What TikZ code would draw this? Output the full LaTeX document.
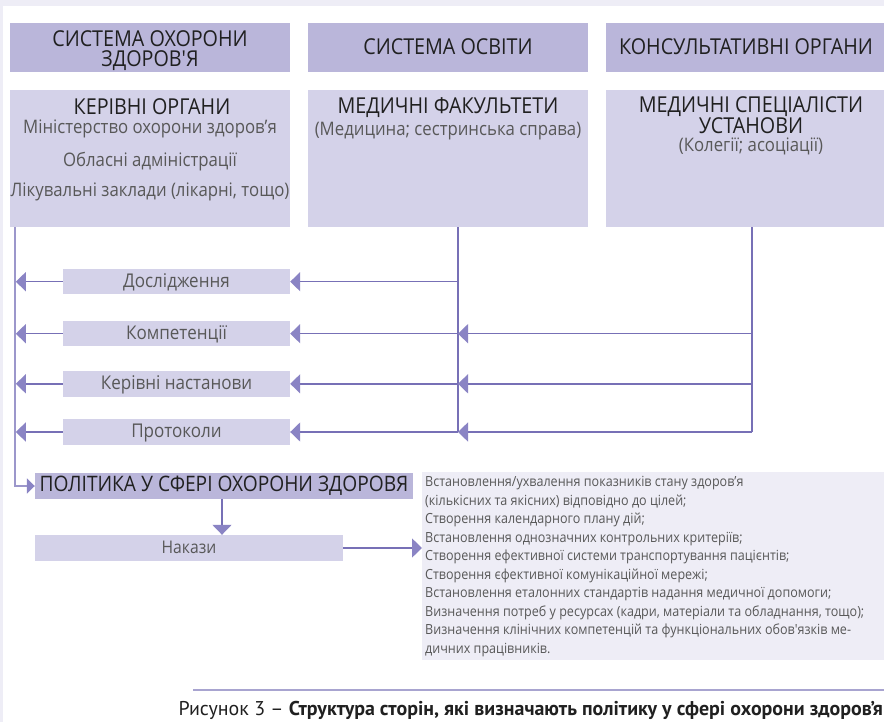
\documentclass[tikz,border=0pt]{standalone}
\usepackage{fontspec}
\setmainfont{Open Sans}[Ligatures=TeXOff,FakeStretch=0.9]
\newfontfamily\capfont{PT Sans}[Ligatures=TeXOff]
\usetikzlibrary{arrows.meta}
\definecolor{hdr}{HTML}{BAB6DA}
\definecolor{sub}{HTML}{D4D2E9}
\definecolor{pale}{HTML}{EEEDF6}
\definecolor{ln}{HTML}{7770B6}
\definecolor{lnl}{HTML}{9C97CB}
\definecolor{tip}{HTML}{8A84C4}
\definecolor{dk}{HTML}{202020}
\definecolor{gr}{HTML}{585858}
\definecolor{capl}{HTML}{A8A4D0}
\begin{document}
\begin{tikzpicture}[x=1bp,y=-1bp,
  hdrbox/.style={fill=hdr, draw=none, minimum width=280bp, minimum height=49bp, inner sep=0},
  subbox/.style={fill=sub, draw=none, minimum width=280bp, minimum height=137bp, inner sep=0},
  labbox/.style={fill=sub, draw=none, minimum width=227bp, minimum height=25.5bp, inner sep=0},
  bigtxt/.style={anchor=base, inner sep=0, text=dk, font=\fontsize{22}{26}\selectfont},
  midtxt/.style={anchor=base, inner sep=0, text=gr, font=\fontsize{18.7}{22}\selectfont},
  labtxt/.style={anchor=base, inner sep=0, text=gr, font=\fontsize{19}{22}\selectfont},
  tline/.style={anchor=base west, inner sep=0, text=gr, font=\fontsize{14}{17}\selectfont},
  line/.style={draw=ln, line width=1.5bp},
  arr/.style={line, -{Triangle[length=10bp,width=19bp,color=tip]}}
]
\useasboundingbox (0,0) rectangle (884,722);
\fill[white] (0,0) rectangle (884,722);
\fill[pale] (0,0) rectangle (884,6);
\fill[pale] (0,0) rectangle (2.5,722);

% header row
\node[hdrbox] (h1) at (150,47.5) {};
\node[hdrbox] (h2) at (448,47.5) {};
\node[hdrbox, minimum width=278bp] (h3) at (745,47.5) {};
\node[bigtxt] (h1a) at (150,46.7) {СИСТЕМА ОХОРОНИ};
\node[bigtxt] (h1b) at (150,66.7) {ЗДОРОВ'Я};
\node[bigtxt] (h2a) at (448,55) {СИСТЕМА ОСВІТИ};
\node[bigtxt] (h3a) at (746,55) {КОНСУЛЬТАТИВНІ ОРГАНИ};

% second row
\node[subbox] (b1) at (150,158.5) {};
\node[subbox] (b2) at (448,158.5) {};
\node[subbox, minimum width=278bp] (b3) at (745,158.5) {};
\node[bigtxt] (t1) at (152,115) {КЕРІВНІ ОРГАНИ};
\node[midtxt] (t1a) at (150,134) {Міністерство охорони здоров’я};
\node[midtxt] (t1b) at (150,166.7) {Обласні адміністрації};
\node[midtxt] (t1c) at (150,196.7) {Лікувальні заклади (лікарні, тощо)};
\node[bigtxt] (t2) at (448,113.3) {МЕДИЧНІ ФАКУЛЬТЕТИ};
\node[midtxt] (t2a) at (448,135.5) {(Медицина; сестринська справа)};
\node[bigtxt] (t3) at (751,113) {МЕДИЧНІ СПЕЦІАЛІСТИ};
\node[bigtxt] (t3b) at (751,134) {УСТАНОВИ};
\node[midtxt] (t3a) at (751,152) {(Колегії; асоціації)};

% labels
\node[labbox] (l1) at (176.5,281.7) {};
\node[labbox] (l2) at (176.5,333.7) {};
\node[labbox] (l3) at (176.5,383.8) {};
\node[labbox] (l4) at (176.5,432) {};
\node[labtxt] (l1t) at (l1.center) [yshift=-5.5bp] {Дослідження};
\node[labtxt] (l2t) at (l2.center) [yshift=-5.5bp] {Компетенції};
\node[labtxt] (l3t) at (l3.center) [yshift=-5.5bp] {Керівні настанови};
\node[labtxt] (l4t) at (l4.center) [yshift=-5.5bp] {Протоколи};

% policy and orders
\node[fill=hdr, minimum width=378bp, minimum height=26bp, inner sep=0] (pol) at (224,486) {};
\node[bigtxt, font=\fontsize{21.4}{26}\selectfont] (polt) at (224,491.7) {ПОЛІТИКА У СФЕРІ ОХОРОНИ ЗДОРОВЯ};
\node[fill=sub, minimum width=308bp, minimum height=26bp, inner sep=0] (nak) at (189,548) {};
\node[labtxt, font=\fontsize{17.5}{20}\selectfont] (nakt) at (189,553.7) {Накази};

% text box
\node[fill=pale, minimum width=462bp, minimum height=188bp, inner sep=0, anchor=north west] (tb) at (422,472) {};
\foreach \t [count=\i] in {
  {Встановлення/ухвалення показників стану здоров’я},
  {(кількісних та якісних) відповідно до цілей;},
  {Створення календарного плану дій;},
  {Встановлення однозначних контрольних критеріїв;},
  {Створення ефективної системи транспортування пацієнтів;},
  {Створення єфективної комунікаційної мережі;},
  {Встановлення еталонних стандартів надання медичної допомоги;},
  {Визначення потреб у ресурсах (кадри, матеріали та обладнання, тощо);},
  {Визначення клінічних компетенцій та функціональних обов'язків ме-},
  {дичних працівників.}}
  \node[tline] (tl\i) at (425,{486.7+18.5*(\i-1)}) {\t};

% connectors
\coordinate (LT) at ([xshift=5bp]b1.south west);
\coordinate (MT) at ([xshift=10bp]b2.south);
\coordinate (RT) at ([xshift=7bp]b3.south);
\draw[draw=lnl, line width=1.8bp, -{Triangle[length=8bp,width=15bp,color=tip]}] (LT) |- (pol.west);
\draw[line] (MT) -- (MT |- l4.east);
\draw[line] (RT) -- (RT |- l4.east);
\foreach \k in {1,2,3,4} {
  \draw[arr] (MT |- l\k.east) -- (l\k.east);
  \draw[arr] (l\k.west) -- ([xshift=1bp]LT |- l\k.west);
}
\foreach \k in {2,3,4} {
  \draw[arr] (RT |- l\k.east) -- (MT |- l\k.east);
}
\draw[arr] (pol.south -| 222,0) -- (nak.north -| 222,0);
\draw[arr] (nak.east) -- (nak.east -| tb.west);

% caption
\coordinate (c1) at (193,690);
\coordinate (c2) at (884,690);
\draw[draw=capl, line width=2bp] (c1) -- (c2);
\node[anchor=base east, inner sep=0, text=dk, font=\capfont\fontsize{20}{24}\selectfont] (cap) at (883,715.7) {Рисунок 3 – \textbf{Структура сторін, які визначають політику у сфері охорони здоров’я}};
\end{tikzpicture}
\end{document}
